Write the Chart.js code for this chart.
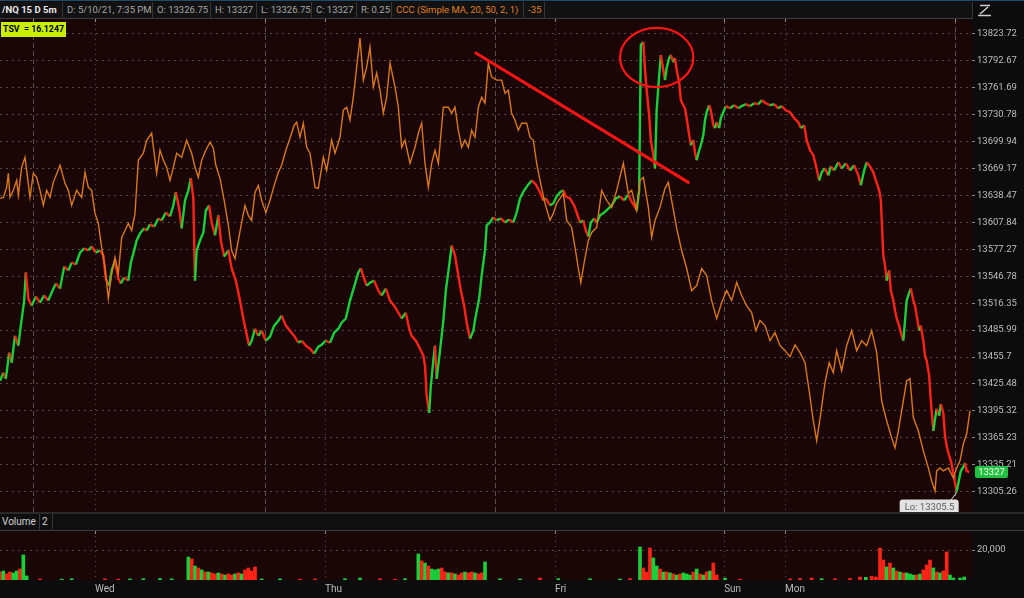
<!DOCTYPE html>
<html>
<head>
<meta charset="utf-8">
<script src="https://cdn.jsdelivr.net/npm/chart.js@4.4.7/dist/chart.umd.min.js"></script>
<style>
  html, body { margin: 0; padding: 0; width: 1024px; height: 598px; overflow: hidden; background: #0c0c0c; font-family: Roboto, "DejaVu Sans", sans-serif; }
  .abs { position: absolute; }
  #blue { left: 0; top: 0; width: 1024px; height: 1px; background: #1e4c69; }
  #hdr { left: 0; top: 2px; width: 973px; height: 16px; background: #121212; border-bottom: 1px solid #3a3a3a; }
  .cell { position: absolute; top: 0; height: 16px; line-height: 16px; border-right: 1px solid #363636; font-size: 9.5px; color: #a6a6a6; padding-left: 4px; box-sizing: border-box; white-space: nowrap; overflow: hidden; }
  .cell.sym { color: #e8e8e8; font-weight: bold; padding-left: 2px; }
  .cell.org { color: #e07f22; }
  #tsv { left: 1px; top: 22px; width: 65px; height: 15px; line-height: 15px; background: #c8f000; color: #000; font-size: 8.8px; font-weight: bold; padding-left: 2px; box-sizing: border-box; white-space: pre; overflow: hidden; }
  #sep { left: 0; top: 512px; width: 1024px; height: 2px; background: #2a2a2a; }
  #volhdr { left: 0; top: 514px; width: 1024px; height: 16px; background: #0f0f0f; border-bottom: 1px solid #3c3c3c; }
  #volhdr .cell { color: #d0d0d0; font-size: 10px; padding-left: 2px; }
</style>
</head>
<body>
<div id="blue" class="abs"></div>
<div id="hdr" class="abs">
  <div class="cell sym" style="left:0;width:63px">/NQ 15 D 5m</div>
  <div class="cell" style="left:63px;width:90px">D: 5/10/21, 7:35 PM</div>
  <div class="cell" style="left:153px;width:58px">O: 13326.75</div>
  <div class="cell" style="left:211px;width:46px">H: 13327</div>
  <div class="cell" style="left:257px;width:55px">L: 13326.75</div>
  <div class="cell" style="left:312px;width:45px">C: 13327</div>
  <div class="cell" style="left:357px;width:35px">R: 0.25</div>
  <div class="cell org" style="left:392px;width:132px">CCC (Simple MA, 20, 50, 2, 1)</div>
  <div class="cell org" style="left:524px;width:21px">-35</div>
  <div class="cell" style="left:545px;width:428px"></div>
</div>
<svg class="abs" style="left:977px;top:3px" width="15" height="14">
  <line x1="3" y1="2.5" x2="13" y2="2.5" stroke="#cfcfcf" stroke-width="1.5"/>
  <line x1="3" y1="11" x2="11" y2="4" stroke="#cfcfcf" stroke-width="1.5"/>
  <line x1="1" y1="12.5" x2="14" y2="12.5" stroke="#cfcfcf" stroke-width="1.5"/>
</svg>
<canvas id="main" class="abs" style="left:0;top:19px" width="1024" height="494"></canvas>
<div id="tsv" class="abs"></div>
<div id="sep" class="abs"></div>
<div id="volhdr" class="abs">
  <div class="cell" style="left:0;width:40px">Volume</div>
  <div class="cell" style="left:40px;width:13px">2</div>
</div>
<canvas id="vol" class="abs" style="left:0;top:531px" width="1024" height="67"></canvas>

<script>
// 5-minute bar index along the x axis (23h session = 276 bars)
const priceBar = [
  0, 4, 7, 11, 14, 18, 22, 25, 29, 31,
  34, 38, 43, 48, 53, 58, 62, 67, 72, 77,
  82, 86, 91, 96, 101, 106, 110, 115, 120, 124,
  127, 131, 134, 138, 142, 145, 149, 154, 157, 161,
  164, 168, 173, 176, 180, 185, 190, 194, 199, 204,
  208, 211, 215, 218, 222, 226, 229, 232, 234, 236,
  240, 244, 247, 251, 254, 258, 262, 265, 269, 274,
  278, 283, 288, 292, 295, 299, 302, 306, 310, 314,
  319, 324, 329, 334, 338, 343, 348, 353, 358, 362,
  367, 372, 377, 382, 386, 391, 396, 401, 406, 410,
  415, 420, 425, 430, 433, 437, 440, 444, 449, 454,
  458, 463, 468, 473, 478, 482, 487, 491, 494, 499,
  504, 508, 510, 512, 515, 517, 520, 522, 524, 528,
  532, 535, 539, 542, 546, 550, 553, 557, 560, 564,
  568, 571, 575, 578, 582, 584, 588, 592, 596, 601,
  606, 611, 616, 620, 624, 629, 634, 638, 643, 648,
  652, 655, 660, 664, 668, 672, 676, 679, 684, 689,
  692, 696, 700, 703, 706, 709, 713, 716, 720, 725,
  730, 734, 739, 744, 749, 754, 757, 761, 764, 767,
  769, 772, 774, 776, 779, 781, 784, 786, 788, 791,
  793, 796, 798, 800, 803, 805, 808, 810, 812, 815,
  817, 820, 822, 824, 827, 829, 832, 834, 836, 839,
  841, 844, 846, 848, 851, 853, 856, 858, 860, 863,
  865, 868, 871, 876, 881, 886, 890, 895, 900, 905,
  910, 914, 919, 924, 929, 934, 938, 943, 948, 953,
  958, 961, 965, 968, 972, 976, 979, 983, 986, 990,
  994, 997, 1001, 1006, 1010, 1015, 1020, 1025, 1030, 1033,
  1037, 1040, 1044, 1048, 1051, 1055, 1057, 1060, 1062, 1064,
  1067, 1069, 1072, 1074, 1076, 1079, 1081, 1084, 1086, 1088,
  1091, 1093, 1096, 1098, 1100, 1103, 1105, 1108, 1110, 1112,
  1115, 1117, 1120, 1122, 1124, 1127, 1129, 1132, 1134, 1136,
  1139, 1141, 1144, 1146, 1148, 1151, 1153, 1156, 1158, 1160,
  1163
]
const priceClose = [
  13429, 13438, 13431.25, 13460.5, 13449.25, 13479.5, 13468.5, 13491, 13519.25, 13551,
  13521.5, 13513.5, 13523.75, 13517, 13525, 13519.25, 13528.25, 13538.5, 13532.75, 13557.75,
  13553.25, 13562.25, 13560, 13573.5, 13578.25, 13576, 13580.5, 13573.5, 13576, 13570.25,
  13544, 13536, 13553.25, 13564.5, 13544, 13538.5, 13545.25, 13541.75, 13562.25, 13576,
  13587.25, 13595.25, 13601, 13598.5, 13605.5, 13603, 13612.25, 13610, 13619, 13614.5,
  13627, 13642, 13623.5, 13601, 13632.75, 13644.25, 13658, 13635, 13541.75, 13576,
  13587.25, 13596.25, 13621.25, 13627, 13607.75, 13593, 13615.75, 13587.25, 13569, 13576,
  13555.5, 13541.75, 13519.25, 13499, 13485.25, 13468.5, 13474, 13487.5, 13479.5, 13485.25,
  13474, 13478.5, 13491, 13496.5, 13502.25, 13491, 13485.25, 13479.5, 13471.75, 13474,
  13468.5, 13465, 13459.5, 13467.25, 13469.5, 13474, 13471.75, 13483, 13487.5, 13494.25,
  13499, 13519.25, 13535, 13551, 13555.5, 13544, 13536, 13539.5, 13541.75, 13530.5,
  13525, 13532.75, 13519.25, 13513.5, 13505.5, 13499, 13505.5, 13487.5, 13479.5, 13474,
  13465, 13457.25, 13446, 13412.25, 13393, 13423.5, 13451.5, 13468.5, 13431.25, 13462.75,
  13496.5, 13530.5, 13559, 13581.5, 13570.25, 13547.5, 13530.5, 13513.5, 13494.25, 13476.25,
  13485.25, 13502.25, 13521.5, 13547.5, 13576, 13604.25, 13607.75, 13613.5, 13610, 13612.25,
  13607.75, 13611, 13607.75, 13619, 13635, 13644.25, 13651, 13655.5, 13651, 13642,
  13632.75, 13635, 13627, 13629.5, 13637.25, 13642, 13644.25, 13637.25, 13635, 13627,
  13619, 13607.75, 13610, 13598.5, 13591.75, 13607.75, 13612.25, 13607.75, 13615.75, 13619,
  13623.5, 13627, 13635, 13637.25, 13632.75, 13639.5, 13632.75, 13627, 13621.25, 13644.25,
  13810.75, 13814.25, 13782, 13758.75, 13730, 13701.5, 13684.25, 13669.25, 13735.75, 13776,
  13799.25, 13782, 13770.5, 13784.25, 13795.75, 13799.25, 13791, 13795.75, 13782, 13768,
  13747.25, 13741.5, 13738, 13726.75, 13707.25, 13695.75, 13701.5, 13687.5, 13678.5, 13690,
  13695.75, 13707.25, 13724.5, 13733.5, 13741.5, 13735.75, 13718.5, 13715.25, 13722, 13715.25,
  13726.75, 13733.5, 13740.5, 13738, 13741.5, 13738, 13740.5, 13742.75, 13740.5, 13743.75,
  13742.75, 13747.25, 13743.75, 13741.5, 13742.75, 13738, 13740.5, 13735.75, 13733.5, 13726.75,
  13722, 13715.25, 13718.5, 13701.5, 13690, 13684.25, 13672.75, 13655.5, 13664.75, 13669.25,
  13661.25, 13671.5, 13667, 13676.25, 13669.25, 13675, 13667, 13672.75, 13661.25, 13650,
  13667, 13676.25, 13671.5, 13664.75, 13655.5, 13644.25, 13632.75, 13570.25, 13559, 13541.75,
  13553.25, 13530.5, 13519.25, 13508, 13499, 13491, 13483, 13474, 13496.5, 13519.25,
  13528.25, 13532.75, 13519.25, 13513.5, 13502.25, 13485.25, 13491, 13474, 13457.25, 13451.5,
  13434.5, 13406.5, 13373, 13386.25, 13397.5, 13389.75, 13403, 13393, 13367.5, 13356,
  13345, 13339.5, 13326, 13315, 13305.5, 13319.25, 13328.25, 13332.75, 13337.25, 13328.25,
  13327
]

// TSV study (orange line)
const tsvBar = [
  0, 4, 8, 10, 12, 16, 20, 22, 26, 30,
  32, 36, 40, 44, 48, 52, 56, 60, 64, 72,
  78, 82, 86, 92, 98, 102, 106, 110, 114, 118,
  122, 126, 130, 134, 138, 142, 146, 150, 154, 158,
  162, 166, 172, 176, 182, 188, 192, 196, 200, 204,
  208, 212, 218, 224, 230, 234, 238, 242, 247, 252,
  256, 259, 264, 269, 274, 278, 282, 286, 290, 294,
  298, 302, 306, 310, 314, 319, 324, 329, 334, 338,
  343, 348, 353, 356, 360, 364, 368, 372, 378, 382,
  388, 392, 398, 402, 408, 412, 416, 420, 424, 428,
  432, 436, 440, 444, 448, 452, 456, 460, 464, 468,
  474, 478, 482, 486, 492, 498, 502, 506, 510, 514,
  518, 522, 526, 532, 538, 542, 546, 550, 554, 558,
  562, 566, 570, 574, 578, 582, 586, 590, 596, 602,
  606, 610, 614, 618, 622, 626, 632, 636, 640, 644,
  648, 654, 660, 664, 668, 676, 680, 686, 690, 694,
  697, 701, 706, 710, 716, 722, 728, 734, 740, 748,
  754, 758, 764, 768, 772, 778, 782, 786, 792, 798,
  802, 806, 812, 818, 824, 830, 836, 842, 848, 854,
  860, 866, 872, 878, 884, 890, 896, 902, 907, 912,
  918, 924, 930, 936, 942, 948, 954, 960, 966, 971,
  976, 980, 985, 990, 995, 1000, 1004, 1010, 1016, 1022,
  1028, 1034, 1040, 1046, 1052, 1058, 1064, 1070, 1074, 1078,
  1084, 1088, 1092, 1096, 1102, 1108, 1114, 1118, 1122, 1124,
  1128, 1132, 1138, 1144, 1148, 1152, 1156, 1160, 1164
]
const tsvVal = [
  185.6, 186.4, 194.4, 205.6, 186.4, 192, 200, 188, 210.4, 218.4,
  208, 186.4, 205.6, 202.4, 192, 180, 192, 186.4, 198.4, 212,
  197.6, 192, 180, 192, 186.4, 206.4, 194.4, 192, 173.6, 165.6,
  146.4, 130.4, 105.6, 125.6, 138.4, 125.6, 154.4, 160, 165.6, 160,
  173.6, 216, 221.6, 232, 237.6, 205.6, 224, 216, 210.4, 200,
  210.4, 221.6, 218.4, 232, 221.6, 210.4, 202.4, 216, 224, 230.4,
  225.6, 212, 201.6, 184, 164, 144, 137.6, 152, 166.4, 180,
  172, 168, 190.4, 196, 184, 174.4, 184, 196, 206.4, 212,
  224, 233.6, 244, 246.4, 234.4, 245.6, 226.4, 221.6, 194.4, 193.6,
  218.4, 208, 232, 221.6, 234.4, 256, 258.4, 248, 266.4, 290.4,
  313.6, 280, 290.4, 306.4, 274.4, 285.6, 272, 253.6, 266.4, 293.6,
  274.4, 258.4, 226.4, 232, 213.6, 226.4, 237.6, 245.6, 213.6, 194.4,
  213.6, 224, 213.6, 258.4, 258.4, 253.6, 258.4, 240, 226.4, 232,
  226.4, 240, 234.4, 258.4, 266.4, 261.6, 293.6, 282.4, 280, 280,
  269.6, 272, 253.6, 248, 240, 245.6, 245.6, 234.4, 232, 213.6,
  200, 181.6, 168, 173.6, 181.6, 189.6, 168, 162.4, 146.4, 129.6,
  118.4, 134.4, 152, 158.4, 162.4, 192, 184, 178.4, 192, 213.6,
  189.6, 192, 176, 200, 202.4, 178.4, 154.4, 168, 178.4, 193.6,
  198.4, 184, 161.6, 144, 129.6, 112, 116, 129.6, 124, 104,
  89.6, 102.4, 112, 104, 118.4, 108, 100, 94.4, 80, 88,
  84, 72, 78.4, 68, 64, 59.2, 68.8, 62.4, 54.4, 32,
  8, -8, 14.4, 38.4, 54.4, 46.4, 64, 48, 68, 80,
  64, 72, 68, 80, 62.4, 24, 8, -5.6, -13.6, 0,
  24, 40, 41.6, 10.4, 0, -16, -29.6, -40, -48, -32,
  -29.6, -32, -29.6, -37.6, -29.6, -24, -10.4, -2.4, 16.1247
]

const priceTicks = [13823.72, 13792.67, 13761.69, 13730.78, 13699.94, 13669.17, 13638.47, 13607.84, 13577.27,
  13546.78, 13516.35, 13485.99, 13455.7, 13425.48, 13395.32, 13365.23, 13335.21, 13305.26]
const dayTickBar = [114, 390, 666, 869, 942]
const dayTickLabel = ["Wed", "Thu", "Fri", "Sun", "Mon"]
const sessionBar = [40, 318, 594, 869, 1146]

// volume, one value every 4 bars inside each busy stretch; g = up bar, r = down bar
const VOL_STEP = 4
const volStart = [0, 226, 502, 768, 1056]
const volTue = [5300, 6000, 4000, 5300, 4700, 6000, 7300, 16700, 2700]
const volWed = [15300, 14000, 9300, 8000, 6700, 5300, 5300, 4700, 4000, 4700, 4000, 3300, 4000, 3300, 4000, 4700, 4000, 6700, 8000, 6000, 8700]
const volThu = [17300, 12700, 11300, 9300, 7300, 6700, 7300, 8000, 5300, 4700, 4700, 4000, 3300, 4700, 5300, 4700, 5300, 4700, 4000, 4700, 12000]
const volFri = [22000, 8000, 5300, 21300, 14700, 9300, 7300, 5300, 5300, 4700, 4000, 3300, 4000, 4700, 4000, 3300, 5300, 7300, 4000, 3300, 5300, 6000, 11300, 3300]
const volMon = [21300, 13300, 8700, 11300, 8000, 6000, 5300, 4700, 4700, 4000, 3300, 3300, 4000, 6700, 10000, 13300, 8000, 5300, 4700, 6000, 18700, 3300, 1300]
const volDir = [
  "rgrrggrgg",
  "grgrgrgrrgrgrrgrgrrrr",
  "grgrgggrrgrgrrgrrgrrg",
  "grrrggrgrgrgrgggrgrgrgrr",
  "rrgrgrgrgggrgrrrgrgrrgg"
]
const volQuietBar = [48, 74, 86, 126, 142, 156, 172, 192, 206, 314, 336, 360, 378, 414, 432, 456, 474, 486, 600, 624, 648, 670, 708, 744, 756, 870, 888, 948, 960, 974, 986, 1002, 1020, 1032, 1039, 1046, 1051, 1152, 1157]
const volQuietVal = [700, 600, 900, 800, 600, 700, 900, 1000, 800, 700, 800, 600, 700, 900, 1300, 800, 600, 900, 800, 700, 1300, 900, 800, 700, 900, 1300, 600, 700, 1000, 1300, 900, 800, 1000, 2000, 1800, 2500, 2000, 1300, 2000]
const volTicks = [20000]

// drawn annotations: trend line and circle, in bar / price units
const trendFrom = [571, 13801.6]
const trendTo = [826, 13653.3]
const circleCenter = [788, 13796.4]
const circleSpan = [44, 34]

const X_MAX = 1166.4
const GREEN = "#19d03a"
const RED = "#ff2417"
const ORANGE = "#d9771c"
const MAROON = "#1a0606"
const FONT = { family: "Roboto", size: 9.5 }

function priceAt(b) {
  if (b <= priceBar[0]) return priceClose[0]
  for (let i = 1; i < priceBar.length; i++) {
    if (b <= priceBar[i]) {
      const t = (b - priceBar[i - 1]) / (priceBar[i] - priceBar[i - 1])
      return priceClose[i - 1] + t * (priceClose[i] - priceClose[i - 1])
    }
  }
  return priceClose[priceClose.length - 1]
}

function roundRect(ctx, x, y, w, h, r) {
  ctx.beginPath()
  if (ctx.roundRect) ctx.roundRect(x, y, w, h, r)
  else ctx.rect(x, y, w, h)
}

const panelBg = {
  id: "panelBg",
  beforeDraw(chart) {
    const { ctx, chartArea: a } = chart
    ctx.save()
    ctx.fillStyle = MAROON
    ctx.fillRect(a.left, a.top, a.width, a.height)
    ctx.restore()
  }
}

const timeLines = {
  id: "timeLines",
  beforeDatasetsDraw(chart, args, opts) {
    const { ctx, chartArea: a, scales: { x } } = chart
    ctx.save()
    ctx.lineWidth = 1
    const draw = (bars, dash) => bars.forEach(b => {
      const px = Math.round(x.getPixelForValue(b)) + 0.5
      ctx.strokeStyle = "rgba(140,140,140,0.55)"
      ctx.setLineDash(dash)
      ctx.beginPath(); ctx.moveTo(px, a.top); ctx.lineTo(px, a.bottom); ctx.stroke()
      ctx.setLineDash([])
      ctx.strokeStyle = "#8c8c8c"
      ctx.beginPath(); ctx.moveTo(px, a.top); ctx.lineTo(px, a.top + 3); ctx.stroke()
    })
    draw(opts.dotted || [], [1, 4])
    draw(opts.dashed || [], [5, 3])
    ctx.restore()
  }
}

const marks = {
  id: "marks",
  afterDatasetsDraw(chart) {
    const { ctx, scales: { x, y } } = chart
    ctx.save()
    ctx.strokeStyle = "#ff1414"
    ctx.lineWidth = 3
    ctx.lineCap = "round"
    ctx.beginPath()
    ctx.moveTo(x.getPixelForValue(trendFrom[0]), y.getPixelForValue(trendFrom[1]))
    ctx.lineTo(x.getPixelForValue(trendTo[0]), y.getPixelForValue(trendTo[1]))
    ctx.stroke()

    const cx = x.getPixelForValue(circleCenter[0])
    const cy = y.getPixelForValue(circleCenter[1])
    const rx = x.getPixelForValue(circleCenter[0] + circleSpan[0]) - cx
    const ry = y.getPixelForValue(circleCenter[1] - circleSpan[1]) - cy
    ctx.lineWidth = 2.2
    ctx.beginPath()
    ctx.ellipse(cx, cy, rx, ry, 0, 0, Math.PI * 2)
    ctx.stroke()

    // low marker
    const lo = Math.min(...priceClose)
    const li = priceClose.indexOf(lo)
    const lx = x.getPixelForValue(priceBar[li])
    const ly = y.getPixelForValue(lo)
    const bw = 59, bh = 16, bx = lx - bw + 2, by = ly + 8
    ctx.strokeStyle = "#e2e2e2"
    ctx.lineWidth = 1
    ctx.beginPath(); ctx.moveTo(lx, ly + 1); ctx.lineTo(lx - 6, by + 1); ctx.stroke()
    ctx.fillStyle = "#e2e2e2"
    roundRect(ctx, bx, by, bw, bh, 3)
    ctx.fill()
    ctx.fillStyle = "#5e5e5e"
    ctx.font = "9.5px Roboto"
    ctx.textBaseline = "middle"
    ctx.fillText("Lo: " + lo, bx + 5, by + 8)
    ctx.restore()
  },
  afterDraw(chart) {
    const { ctx, chartArea: a, scales: { y } } = chart
    const last = priceClose[priceClose.length - 1]
    const py = Math.round(y.getPixelForValue(last))
    ctx.save()
    ctx.fillStyle = "#21c23f"
    roundRect(ctx, a.right + 3, py - 6, 33, 12, 2)
    ctx.fill()
    ctx.fillStyle = "#f4f4f4"
    ctx.font = "9.5px Roboto"
    ctx.textAlign = "center"
    ctx.textBaseline = "middle"
    ctx.fillText(String(last), a.right + 19.5, py + 0.5)
    ctx.restore()
  }
}

document.getElementById("tsv").textContent = "TSV  = " + tsvVal[tsvVal.length - 1]

new Chart(document.getElementById("main"), {
  type: "line",
  data: {
    datasets: [
      {
        label: "TSV",
        data: tsvBar.map((b, i) => ({ x: b, y: tsvVal[i] })),
        yAxisID: "tsv",
        borderColor: ORANGE,
        borderWidth: 1.4,
        pointRadius: 0,
        order: 0
      },
      {
        label: "/NQ",
        data: priceBar.map((b, i) => ({ x: b, y: priceClose[i] })),
        yAxisID: "y",
        borderColor: GREEN,
        borderWidth: 2.4,
        pointRadius: 0,
        segment: { borderColor: c => c.p1.parsed.y >= c.p0.parsed.y ? GREEN : RED },
        order: 1
      }
    ]
  },
  options: {
    responsive: false,
    animation: false,
    devicePixelRatio: 1,
    layout: { padding: 0 },
    plugins: {
      legend: { display: false },
      tooltip: { enabled: false },
      timeLines: { dotted: [114, 390, 666, 942], dashed: sessionBar }
    },
    scales: {
      x: { type: "linear", min: 0, max: X_MAX, display: false },
      y: {
        type: "logarithmic",
        position: "right",
        min: 13281.6,
        max: 13840.8,
        bounds: "data",
        afterBuildTicks: s => { s.ticks = priceTicks.map(v => ({ value: v })) },
        afterFit: s => { s.width = 52; s.paddingTop = 0; s.paddingBottom = 0 },
        ticks: { autoSkip: false, padding: 2, color: "#bdbdbd", font: FONT, callback: v => String(v) },
        grid: { color: "rgba(125,115,115,0.6)", drawTicks: true, tickLength: 3, tickColor: "#8a8a8a" },
        border: { display: false, dash: [2, 4] }
      },
      tsv: { type: "linear", display: false, min: -65.6, max: 328.8 }
    }
  },
  plugins: [panelBg, timeLines, marks]
})

const volPoints = []
const volColors = []
;[volTue, volWed, volThu, volFri, volMon].forEach((arr, k) => {
  arr.forEach((v, i) => {
    volPoints.push({ x: volStart[k] + i * VOL_STEP, y: v })
    volColors.push(volDir[k][i] === "g" ? GREEN : RED)
  })
})
volQuietBar.forEach((b, i) => {
  volPoints.push({ x: b, y: volQuietVal[i] })
  volColors.push(priceAt(b) >= priceAt(b - VOL_STEP) ? GREEN : RED)
})

new Chart(document.getElementById("vol"), {
  type: "bar",
  data: {
    datasets: [{
      label: "Volume",
      data: volPoints,
      backgroundColor: volColors,
      barThickness: 3,
      grouped: false
    }]
  },
  options: {
    responsive: false,
    animation: false,
    devicePixelRatio: 1,
    layout: { padding: 0 },
    plugins: {
      legend: { display: false },
      tooltip: { enabled: false },
      timeLines: { dotted: dayTickBar, dashed: [] }
    },
    scales: {
      x: {
        type: "linear",
        min: 0,
        max: X_MAX,
        offset: false,
        afterBuildTicks: s => { s.ticks = dayTickBar.map(v => ({ value: v })) },
        afterFit: s => { s.height = 18; s.paddingLeft = 0; s.paddingRight = 0 },
        ticks: { autoSkip: false, align: "start", padding: 3, maxRotation: 0, color: "#bdbdbd", font: { family: "Roboto", size: 10 }, callback: (v, i) => dayTickLabel[i] },
        grid: { display: false, drawTicks: false },
        border: { display: false }
      },
      y: {
        position: "right",
        min: 0,
        max: 32667,
        afterBuildTicks: s => { s.ticks = volTicks.map(v => ({ value: v })) },
        afterFit: s => { s.width = 52; s.paddingTop = 0; s.paddingBottom = 0 },
        ticks: { autoSkip: false, padding: 2, color: "#bdbdbd", font: FONT, callback: v => v.toLocaleString("en-US") },
        grid: { color: "rgba(125,115,115,0.6)", drawTicks: true, tickLength: 3, tickColor: "#8a8a8a" },
        border: { display: false, dash: [2, 4] }
      }
    }
  },
  plugins: [panelBg, timeLines]
})
</script>
</body>
</html>
